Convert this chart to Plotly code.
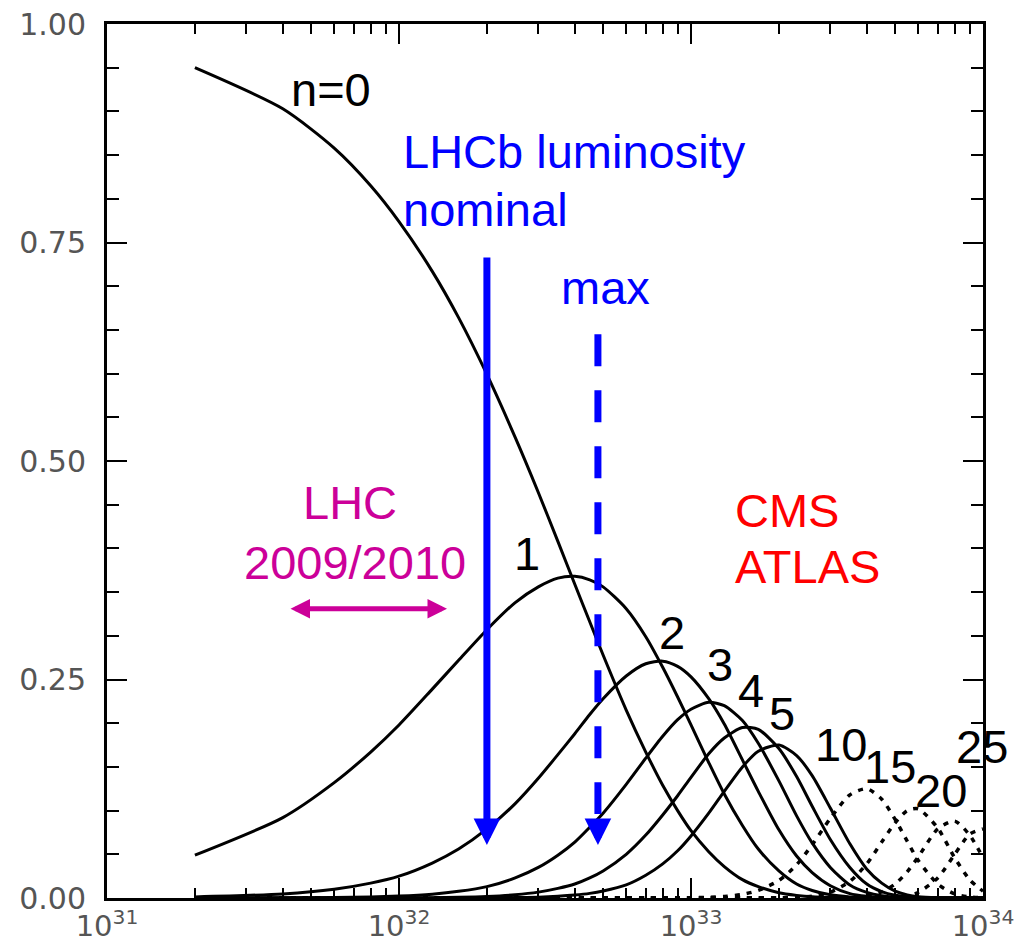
import math
import plotly.graph_objects as go

# Instantaneous luminosity (cm^-2 s^-1) at which the probabilities are tabulated
luminosity = [2e31, 4e31, 6e31, 8e31, 1e32, 1.3e32, 1.6e32, 2e32, 2.5e32, 3e32,
              3.5e32, 4e32, 4.5e32, 5e32, 6e32, 7e32, 8e32, 9e32, 1e33, 1.15e33,
              1.3e33, 1.5e33, 1.7e33, 2e33, 2.3e33, 2.6e33, 3e33, 3.5e33, 4e33, 4.5e33,
              5e33, 5.5e33, 6e33, 7e33, 8e33, 9e33, 1e34]

# Probability of n pp interactions per bunch crossing
p_n0 = [0.950, 0.903, 0.858, 0.815, 0.774, 0.717, 0.664, 0.599, 0.527, 0.464,
        0.408, 0.359, 0.316, 0.278, 0.215, 0.167, 0.129, 0.100, 0.077, 0.053,
        0.036, 0.021, 0.013, 0.006, 0.003, 0.0013, 0.0005, 0.0001, 0, 0,
        0, 0, 0, 0, 0, 0, 0]
p_n1 = [0.049, 0.092, 0.132, 0.167, 0.198, 0.239, 0.272, 0.307, 0.338, 0.356,
        0.366, 0.368, 0.364, 0.356, 0.331, 0.299, 0.264, 0.230, 0.198, 0.155,
        0.119, 0.083, 0.056, 0.031, 0.016, 0.0086, 0.0036, 0.0012, 0.0004, 0,
        0, 0, 0, 0, 0, 0, 0]
p_n2 = [0.0012, 0.0047, 0.010, 0.017, 0.025, 0.040, 0.056, 0.079, 0.108, 0.137,
        0.164, 0.188, 0.210, 0.228, 0.254, 0.268, 0.271, 0.265, 0.253, 0.228,
        0.199, 0.158, 0.122, 0.078, 0.048, 0.029, 0.014, 0.005, 0.0019, 0.0007,
        0, 0, 0, 0, 0, 0, 0]
p_n3 = [0.0, 0.0002, 0.0005, 0.0012, 0.0022, 0.0044, 0.0076, 0.013, 0.023, 0.035,
        0.049, 0.064, 0.081, 0.097, 0.130, 0.160, 0.185, 0.204, 0.216, 0.224,
        0.220, 0.203, 0.177, 0.134, 0.094, 0.063, 0.035, 0.015, 0.0064, 0.0025,
        0.001, 0.0004, 0.0001, 0, 0, 0, 0]
p_n4 = [0, 0, 0, 0.0001, 0.0001, 0.0004, 0.0008, 0.0017, 0.0037, 0.0067,
        0.011, 0.016, 0.023, 0.031, 0.050, 0.072, 0.095, 0.117, 0.138, 0.165,
        0.183, 0.195, 0.193, 0.171, 0.139, 0.105, 0.067, 0.035, 0.016, 0.0073,
        0.0031, 0.0013, 0.0005, 0.0001, 0, 0, 0]
p_n5 = [0, 0, 0, 0, 0, 0, 0.0001, 0.0002, 0.0005, 0.001,
        0.002, 0.0034, 0.0053, 0.008, 0.015, 0.026, 0.039, 0.054, 0.071, 0.097,
        0.122, 0.150, 0.168, 0.175, 0.163, 0.140, 0.103, 0.062, 0.033, 0.017,
        0.0079, 0.0036, 0.0015, 0.0003, 0, 0, 0]
p_n10 = [0, 0, 0, 0, 0, 0, 0, 0, 0, 0,
         0, 0, 0, 0, 0, 0, 0, 0.0001, 0.0003, 0.0007,
         0.0017, 0.0041, 0.0087, 0.020, 0.038, 0.061, 0.091, 0.118, 0.125, 0.113,
         0.090, 0.065, 0.043, 0.016, 0.0046, 0.0012, 0.0003]
p_n15 = [0, 0, 0, 0, 0, 0, 0, 0, 0, 0,
         0, 0, 0, 0, 0, 0, 0, 0, 0, 0,
         0, 0, 0, 0.0002, 0.0008, 0.0022, 0.0067, 0.019, 0.039, 0.064,
         0.086, 0.100, 0.102, 0.080, 0.046, 0.021, 0.0078]
p_n20 = [0, 0, 0, 0, 0, 0, 0, 0, 0, 0,
         0, 0, 0, 0, 0, 0, 0, 0, 0, 0,
         0, 0, 0, 0, 0, 0, 0.0001, 0.0006, 0.0024, 0.0069,
         0.016, 0.030, 0.047, 0.079, 0.088, 0.072, 0.046]
p_n25 = [0, 0, 0, 0, 0, 0, 0, 0, 0, 0,
         0, 0, 0, 0, 0, 0, 0, 0, 0, 0,
         0, 0, 0, 0, 0, 0, 0, 0, 0.0, 0.0002,
         0.0009, 0.0026, 0.0063, 0.023, 0.050, 0.073, 0.079]

solid_series = [("0", p_n0), ("1", p_n1), ("2", p_n2), ("3", p_n3), ("4", p_n4), ("5", p_n5)]
dotted_series = [("10", p_n10), ("15", p_n15), ("20", p_n20), ("25", p_n25)]

# Luminosity markers
lumi_nominal = 2e32
lumi_max = 4.8e32
lhc_early = [4.2e31, 1.46e32]

x_tickvals = [1e31, 1e32, 1e33, 1e34]
x_ticktext = ["10<sup>31</sup>", "10<sup>32</sup>", "10<sup>33</sup>", "10<sup>34</sup>"]
y_tickvals = [0.0, 0.25, 0.50, 0.75, 1.00]
y_ticktext = ["0.00", "0.25", "0.50", "0.75", "1.00"]

W, H = 1017, 951
ML, MR, MT, MB = 107, 34, 24, 53
PW, PH = W - ML - MR, H - MT - MB

BLUE = "#0000FF"
MAGENTA = "#CC0099"
RED = "#FF0000"
TEXT_FONT = "Liberation Sans, Arial, sans-serif"


def px(x):
    return (x - ML) / PW


def py(y):
    return (MT + PH - y) / PH


fig = go.Figure()

for name, vals in solid_series:
    fig.add_trace(go.Scatter(x=luminosity, y=vals, mode="lines", name="n=" + name,
                             line=dict(color="black", width=3, shape="spline", smoothing=0.7)))
for name, vals in dotted_series:
    fig.add_trace(go.Scatter(x=luminosity, y=vals, mode="lines", name="n=" + name,
                             line=dict(color="black", width=3.5, dash="5px,7px",
                                       shape="spline", smoothing=0.7)))

# dashed shaft of the "max" arrow
fig.add_trace(go.Scatter(x=[lumi_max, lumi_max], y=[0.645, 0.096], mode="lines",
                         line=dict(color=BLUE, width=7, dash="32px,24px")))

annotations = []

# nominal luminosity arrow
annotations.append(dict(x=math.log10(lumi_nominal), y=0.0606, xref="x", yref="y",
                        ax=math.log10(lumi_nominal), ay=0.7346, axref="x", ayref="y",
                        text="", showarrow=True, arrowhead=2, arrowsize=0.76,
                        arrowwidth=7, arrowcolor=BLUE, standoff=0))
# head of the max-luminosity arrow
annotations.append(dict(x=math.log10(lumi_max), y=0.0606, xref="x", yref="y",
                        ax=0, ay=-24, text="", showarrow=True, arrowhead=2,
                        arrowsize=0.76, arrowwidth=7, arrowcolor=BLUE, standoff=0))
# LHC 2009/2010 range
annotations.append(dict(x=math.log10(lhc_early[1]), y=0.331, xref="x", yref="y",
                        ax=math.log10(lhc_early[0]), ay=0.331, axref="x", ayref="y",
                        text="", showarrow=True, arrowside="end+start",
                        arrowhead=2, startarrowhead=2, arrowsize=0.78,
                        startarrowsize=0.78, arrowwidth=5, arrowcolor=MAGENTA,
                        standoff=0, startstandoff=0))


def label(text, x, y, color="black", xanchor="center", size=47):
    annotations.append(dict(text=text, x=px(x), y=py(y), xref="paper", yref="paper",
                            xanchor=xanchor, yanchor="middle", showarrow=False,
                            font=dict(family=TEXT_FONT, size=size, color=color)))


label("n=0", 331, 90)
label("LHCb luminosity", 401, 152, BLUE, "left")
label("nominal", 401, 209, BLUE, "left")
label("max", 605, 287, BLUE)
label("LHC", 350, 503, MAGENTA)
label("2009/2010", 355, 562, MAGENTA)
label("CMS", 733, 510, RED, "left")
label("ATLAS", 733, 566, RED, "left")
for text, x, y in [("1", 527, 553), ("2", 672, 632), ("3", 720, 664), ("4", 751, 690),
                   ("5", 782, 713), ("10", 841, 744), ("15", 890, 766),
                   ("20", 941, 790), ("25", 982, 746)]:
    label(text, x, y)

fig.update_layout(
    width=W, height=H,
    margin=dict(l=ML, r=MR, t=MT, b=MB, pad=0),
    paper_bgcolor="white", plot_bgcolor="white",
    showlegend=False,
    annotations=annotations,
)

fig.update_xaxes(
    type="log", range=[31, 34], automargin=False,
    showgrid=False, zeroline=False,
    showline=True, linecolor="black", linewidth=3, mirror="ticks",
    ticks="inside", ticklen=20, tickwidth=2, tickcolor="black",
    tickvals=x_tickvals, ticktext=x_ticktext,
    tickfont=dict(family="DejaVu Sans", size=29, color="#555555"),
    ticklabelstandoff=0,
    minor=dict(ticks="inside", ticklen=10, tickwidth=2, tickcolor="black", dtick="D1", showgrid=False),
)
fig.update_yaxes(
    range=[0, 1], automargin=False,
    showgrid=False, zeroline=False,
    showline=True, linecolor="black", linewidth=3, mirror="ticks",
    ticks="inside", ticklen=20, tickwidth=2, tickcolor="black",
    tickvals=y_tickvals, ticktext=y_ticktext,
    tickfont=dict(family="DejaVu Sans", size=30, color="#555555"),
    ticklabelstandoff=12,
    minor=dict(ticks="inside", ticklen=12, tickwidth=2, tickcolor="black", dtick=0.05, showgrid=False),
)

fig.write_html("out.html")
